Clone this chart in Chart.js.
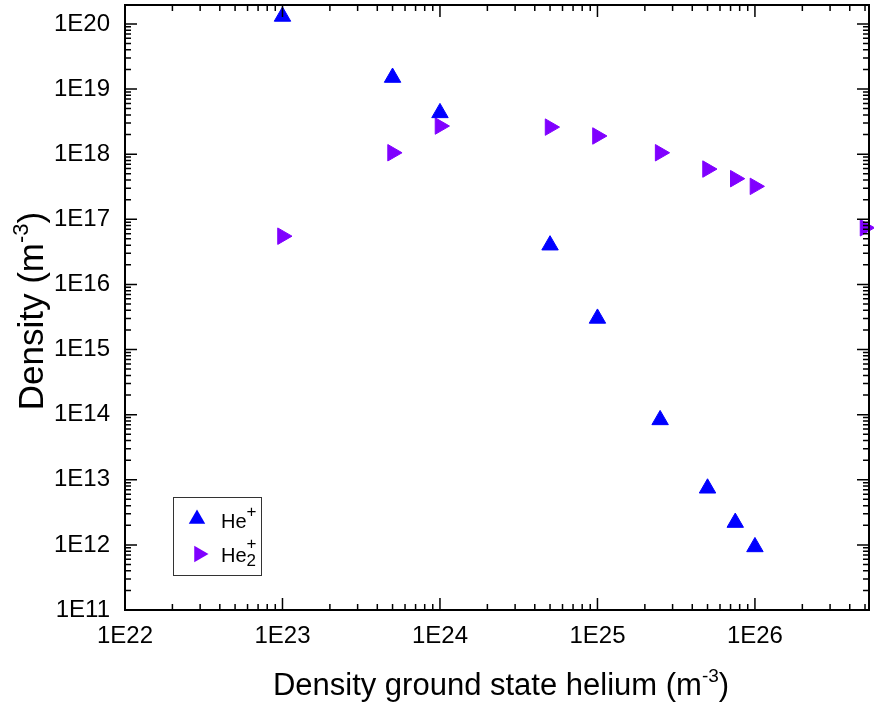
<!DOCTYPE html>
<html>
<head>
<meta charset="utf-8">
<script src="https://cdn.jsdelivr.net/npm/chart.js@4/dist/chart.umd.min.js"></script>
<style>
  html, body { margin: 0; padding: 0; background: #fff; }
  #wrap { width: 874px; height: 704px; }
</style>
</head>
<body>
<div id="wrap"><canvas id="myChart"></canvas></div>
<script>
const groundDensity = [1e23, 5e23, 1e24, 5e24, 1e25, 2.5e25, 5e25, 7.5e25, 1e26, 5e26];
const heIon = [1.3e20, 1.5e19, 4.3e18, 4.0e16, 3.0e15, 8.3e13, 7.4e12, 2.2e12, 9.3e11, null];
const he2Ion = [5.5e16, 1.05e18, 2.7e18, 2.6e18, 1.9e18, 1.05e18, 5.9e17, 4.2e17, 3.2e17, 7.4e16];
const xDecades = [22, 23, 24, 25, 26];
const yDecades = [11, 12, 13, 14, 15, 16, 17, 18, 19, 20];

const font = "'Liberation Sans', Arial, sans-serif";

function pts(ys) {
    return groundDensity.map((x, i) => ({ x: x, y: ys[i] })).filter(p => p.y !== null);
}

// text with a raised exponent, e.g. "(m" + "-3" + ")"
function supText(ctx, parts, x, y, big, small, align) {
    ctx.font = big + 'px ' + font;
    const w1 = ctx.measureText(parts[0]).width;
    const w3 = ctx.measureText(parts[2]).width;
    ctx.font = small + 'px ' + font;
    const w2 = ctx.measureText(parts[1]).width;
    const x0 = align === 'center' ? x - (w1 + w2 + w3) / 2 : x;
    ctx.font = big + 'px ' + font;
    ctx.fillText(parts[0], x0, y);
    ctx.fillText(parts[2], x0 + w1 + w2, y);
    ctx.font = small + 'px ' + font;
    ctx.fillText(parts[1], x0 + w1, y - big * 0.42);
}

// inward major/minor ticks on all four sides, the box, titles and legend
const frame = {
    id: 'frame',
    afterDatasetsDraw(chart) {
        const ctx = chart.ctx, a = chart.chartArea;
        const xs = chart.scales.x, ys = chart.scales.y;
        ctx.save();
        ctx.strokeStyle = '#000';
        ctx.lineWidth = 2;
        ctx.strokeRect(a.left, a.top, a.right - a.left, a.bottom - a.top);
        ctx.lineWidth = 1.5;
        ctx.beginPath();
        for (let e = 22; e <= 27; e++) {
            for (let m = 1; m <= 9; m++) {
                const v = m * Math.pow(10, e);
                if (v < xs.min || v > xs.max) continue;
                const px = xs.getPixelForValue(v);
                const len = m === 1 ? 12 : 6;
                ctx.moveTo(px, a.bottom); ctx.lineTo(px, a.bottom - len);
                ctx.moveTo(px, a.top); ctx.lineTo(px, a.top + len);
            }
        }
        for (let e = 11; e <= 20; e++) {
            for (let m = 1; m <= 9; m++) {
                const v = m * Math.pow(10, e);
                if (v < ys.min || v > ys.max) continue;
                const py = ys.getPixelForValue(v);
                const len = m === 1 ? 12 : 6;
                ctx.moveTo(a.left, py); ctx.lineTo(a.left + len, py);
                ctx.moveTo(a.right, py); ctx.lineTo(a.right - len, py);
            }
        }
        ctx.stroke();

        ctx.fillStyle = '#000';
        ctx.textBaseline = 'alphabetic';
        ctx.textAlign = 'left';
        supText(ctx, ['Density ground state helium (m', '-3', ')'], 501, 695, 31, 19, 'center');

        ctx.translate(43, 311);
        ctx.rotate(-Math.PI / 2);
        supText(ctx, ['Density (m', '-3', ')'], 0, 0, 35, 22, 'center');
        ctx.restore();

        // legend box
        ctx.save();
        ctx.strokeStyle = '#333';
        ctx.lineWidth = 1;
        ctx.strokeRect(173.5, 497.5, 88, 78);
        ctx.fillStyle = '#0000ff'; ctx.strokeStyle = '#0000ff';
        Chart.helpers.drawPoint(ctx, { pointStyle: 'triangle', radius: 9.5, rotation: 0 }, 197, 519);
        ctx.fillStyle = '#8000ff'; ctx.strokeStyle = '#8000ff';
        Chart.helpers.drawPoint(ctx, { pointStyle: 'triangle', radius: 9.5, rotation: 90 }, 199, 554);
        ctx.fillStyle = '#000';
        ctx.font = '20px ' + font;
        ctx.fillText('He', 221, 528);
        ctx.fillText('He', 221, 562);
        const hw = ctx.measureText('He').width;
        ctx.font = '17px ' + font;
        ctx.fillText('+', 221 + hw, 517);
        ctx.fillText('+', 221 + hw, 549);
        ctx.fillText('2', 221 + hw, 566);
        ctx.restore();
    }
};

const config = {
    type: 'scatter',
    data: {
        datasets: [{
                label: 'He+',
                data: pts(heIon),
                pointStyle: 'triangle',
                pointRotation: 0,
                radius: 9.5,
                backgroundColor: '#0000ff',
                borderColor: '#0000ff',
                borderWidth: 1,
                clip: false
            },
            {
                label: 'He2+',
                data: pts(he2Ion),
                pointStyle: 'triangle',
                pointRotation: 90,
                radius: 9.5,
                backgroundColor: '#8000ff',
                borderColor: '#8000ff',
                borderWidth: 1,
                clip: false
            }
        ]
    },
    options: {
        responsive: true,
        maintainAspectRatio: false,
        animation: false,
        layout: { autoPadding: false, padding: { top: 5, right: 5, left: 0, bottom: 0 } },
        plugins: { legend: { display: false }, tooltip: { enabled: false } },
        scales: {
            x: {
                type: 'logarithmic',
                min: 1e22,
                max: 5.3e26,
                grid: { display: false },
                border: { display: false },
                afterBuildTicks: s => { s.ticks = xDecades.map(e => ({ value: Math.pow(10, e) })); },
                afterFit: s => { s.height = 94; s.paddingLeft = 0; s.paddingRight = 0; },
                ticks: {
                    color: '#000',
                    font: { family: font, size: 24 },
                    padding: 4,
                    maxRotation: 0,
                    autoSkip: false,
                    callback: v => '1E' + Math.round(Math.log10(v))
                }
            },
            y: {
                type: 'logarithmic',
                min: 1e11,
                max: 1.95e20,
                grid: { display: false },
                border: { display: false },
                afterBuildTicks: s => { s.ticks = yDecades.map(e => ({ value: Math.pow(10, e) })); },
                afterFit: s => { s.width = 125; s.paddingTop = 0; s.paddingBottom = 0; },
                ticks: {
                    color: '#000',
                    font: { family: font, size: 24 },
                    padding: 7,
                    autoSkip: false,
                    callback: v => '1E' + Math.round(Math.log10(v))
                }
            }
        }
    },
    plugins: [frame]
};

var myChart = new Chart(document.getElementById('myChart'), config);
</script>
</body>
</html>
